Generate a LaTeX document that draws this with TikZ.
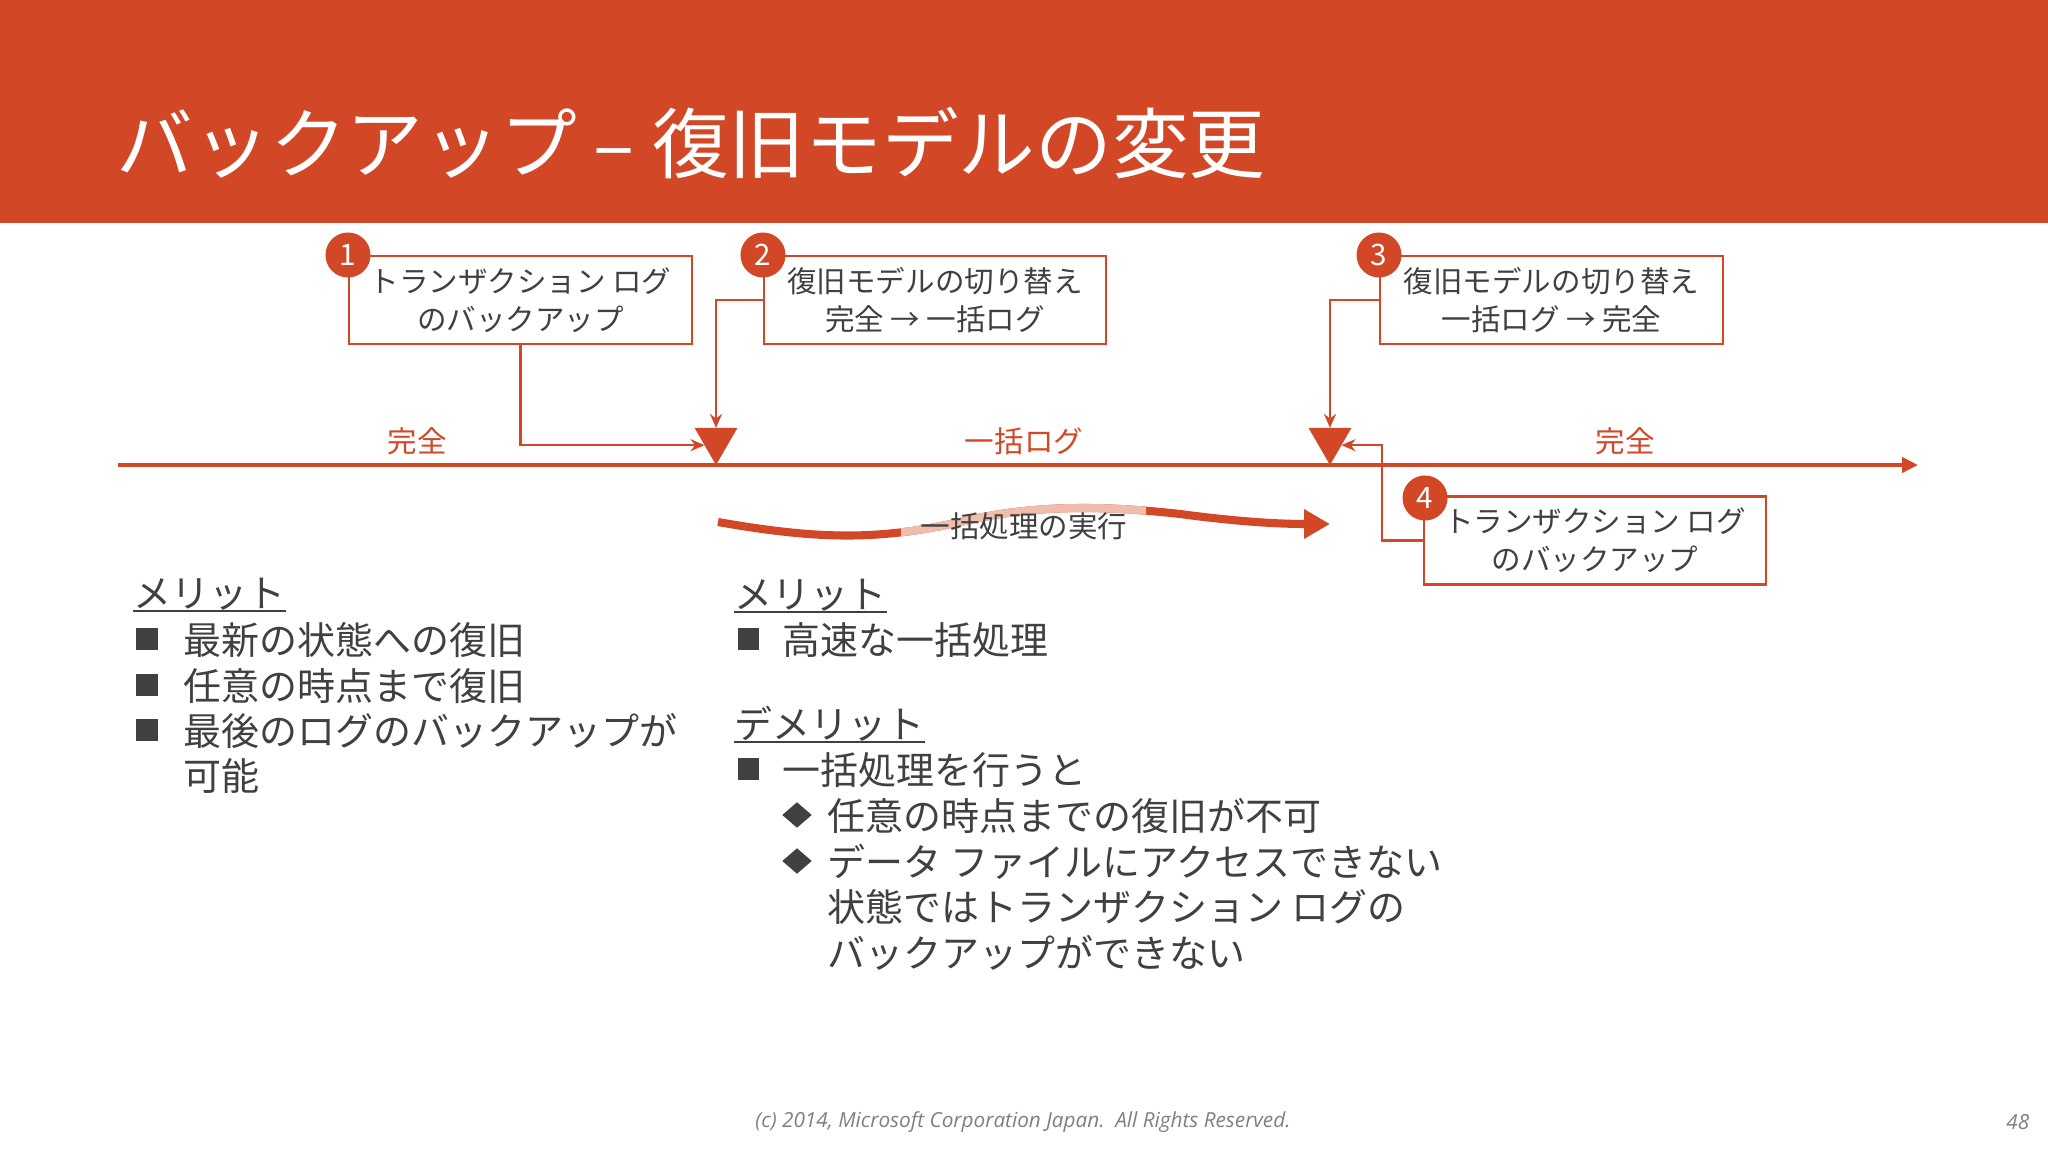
\documentclass[tikz,border=0pt]{standalone}
\usepackage{fontspec}
\setmainfont{Noto Sans CJK JP}
\newfontfamily\footfont{Open Sans}
\usetikzlibrary{arrows.meta,shapes.geometric}
\definecolor{accent}{HTML}{D24726}
\definecolor{txt}{HTML}{404040}
\definecolor{pinkc}{HTML}{F2BCAB}
\definecolor{footc}{HTML}{808080}
\begin{document}
\begin{tikzpicture}[x=0.01cm,y=-0.01cm,
  box/.style={draw=accent, line width=0.6pt, minimum width=3.42cm, minimum height=0.88cm,
    align=center, text=txt, inner sep=0, outer sep=0,
    font=\fontsize{8.4pt}{10.8pt}\selectfont},
  num/.style={circle, fill=accent, text=white, minimum size=0.45cm, inner sep=0,
    font=\fontsize{8.4pt}{10pt}\selectfont},
  tri/.style={regular polygon, regular polygon sides=3, regular polygon rotate=180,
    fill=accent, minimum size=0.494cm, inner sep=0, outer sep=0},
  conn/.style={draw=accent, line width=0.6pt, -{Stealth[length=0.14cm,width=0.12cm]}},
  lbl/.style={text=accent, inner sep=0, font=\fontsize{8.4pt}{10pt}\selectfont},
  body/.style={anchor=west, inner sep=0, text=txt, font=\fontsize{10.8pt}{13pt}\selectfont},
  sq/.style={rectangle, fill=txt, minimum size=0.21cm, inner sep=0},
  dia/.style={diamond, fill=txt, minimum width=0.30cm, minimum height=0.26cm, inner sep=0},
  uline/.style={draw=txt, line width=0.6pt},
  foot/.style={text=footc, inner sep=0, font=\footfont\itshape\fontsize{5.9pt}{7pt}\selectfont}
]
\useasboundingbox (0,0) rectangle (2048,1152);
\fill[white] (0,0) rectangle (2048,1152);
\fill[accent] (0,0) rectangle (2048,223);
\node[anchor=west, text=white, inner sep=0, font=\fontsize{21.8pt}{26pt}\selectfont] (title) at (116,143) {バックアップ – 復旧モデルの変更};

% timeline
\coordinate (tl0) at (118,465);
\coordinate (tl1) at (1918,465);
\draw[accent, line width=1.4pt, -{Triangle[length=0.16cm,width=0.15cm]}] (tl0) -- (tl1);
\node[tri] (t1) at (716,440.3) {};
\node[tri] (t2) at (1330,440.3) {};

\node[lbl] (lab1) at (417,441) {完全};
\node[lbl] (lab2) at (1024,441) {一括ログ};
\node[lbl] (lab3) at (1625,441) {完全};

% boxes
\node[box] (b1) at (520.5,300) {トランザクション ログ\\のバックアップ};
\node[box] (b2) at (935,300) {復旧モデルの切り替え\\完全 → 一括ログ};
\node[box] (b3) at (1551.5,300) {復旧モデルの切り替え\\一括ログ → 完全};
\node[box] (b4) at (1595,540.5) {トランザクション ログ\\のバックアップ};

\node[num] (n1) at (348,255) {1};
\node[num] (n2) at (763,255) {2};
\node[num] (n3) at (1379,255) {3};
\node[num] (n4) at (1425,498) {4};

% connectors
\draw[conn] (b1.south) |- (t1.203);
\draw[conn] (b2.west) -| (t1);
\draw[conn] (b3.west) -| (t2);
\draw[conn] (b4.west) -- ++(-42,0) |- (t2.-23);

% wavy arrow
\coordinate (w0) at (718,522);
\coordinate (w1) at (1330,524);
\draw[accent, line width=2.3pt, -{Triangle[length=0.26cm,width=0.28cm]}]
  (w0) .. controls (820,540) and (880,540) .. (960,522)
       .. controls (1030,505) and (1100,505) .. (1180,514)
       .. controls (1240,522) and (1280,524) .. (w1);
\begin{scope}
\clip (901,480) rectangle (1146,570);
\draw[pinkc, line width=2.3pt]
  (w0) .. controls (820,540) and (880,540) .. (960,522)
       .. controls (1030,505) and (1100,505) .. (1180,514)
       .. controls (1240,522) and (1280,524) .. (w1);
\end{scope}
\node[text=txt, inner sep=0, font=\fontsize{8.4pt}{10pt}\selectfont] (wl) at (1024,526) {一括処理の実行};

% left column
\node[body] (h1) at (133,594) {メリット};
\draw[uline] (h1.south west) -- (h1.south east);
\node[sq] (s1) at (147,639) {};
\node[body] (l1) at (183,640) {最新の状態への復旧};
\node[sq] (s2) at (147,685) {};
\node[body] (l2) at (183,686) {任意の時点まで復旧};
\node[sq] (s3) at (147,730) {};
\node[body] (l3) at (183,731) {最後のログのバックアップが};
\node[body] (l4) at (183,776) {可能};

% middle column
\node[body] (h2) at (734,595) {メリット};
\draw[uline] (h2.south west) -- (h2.south east);
\node[sq] (s4) at (748,639) {};
\node[body] (m1) at (782,640) {高速な一括処理};
\node[body] (h3) at (734,724) {デメリット};
\draw[uline] (h3.south west) -- (h3.south east);
\node[sq] (s5) at (748,769) {};
\node[body] (m2) at (782,770) {一括処理を行うと};
\node[dia] (d1) at (797,815) {};
\node[body] (m3) at (827,816) {任意の時点までの復旧が不可};
\node[dia] (d2) at (797,861) {};
\node[body] (m4) at (827,862) {データ ファイルにアクセスできない};
\node[body] (m5) at (827,907) {状態ではトランザクション ログの};
\node[body] (m6) at (827,953) {バックアップができない};

% footer
\node[foot] (ft) at (1023,1122) {(c) 2014, Microsoft Corporation Japan.\ \ All Rights Reserved.};
\node[foot, anchor=east] (pg) at (2030,1122) {48};
\end{tikzpicture}
\end{document}
